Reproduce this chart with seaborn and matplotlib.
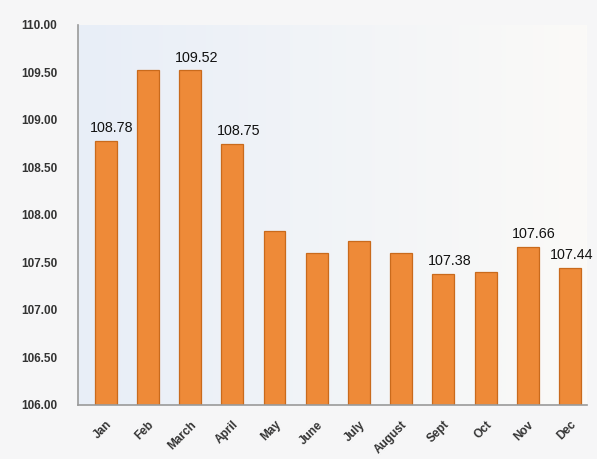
import numpy as np
import pandas as pd
import matplotlib
matplotlib.use("Agg")
import matplotlib.pyplot as plt
import seaborn as sns

months = ["Jan", "Feb", "March", "April", "May", "June", "July", "August", "Sept", "Oct", "Nov", "Dec"]
values = [108.78, 109.52, 109.52, 108.75, 107.83, 107.60, 107.72, 107.60, 107.38, 107.40, 107.66, 107.44]
labelled = ["Jan", "March", "April", "Sept", "Nov", "Dec"]
yticks = [106.0, 106.5, 107.0, 107.5, 108.0, 108.5, 109.0, 109.5, 110.0]

sns.set_style("white")
plt.rcParams['font.family'] = ['Liberation Sans', 'DejaVu Sans']

df = pd.DataFrame({"month": months, "value": values})

fig = plt.figure(figsize=(5.97, 4.59), dpi=100)
fig.patch.set_facecolor("#f6f6f7")
ax = fig.add_axes([0.131, 0.118, 0.852, 0.828])
ax.set_facecolor("#eef2f8")

# soft gradient background in axes coordinates
grad = np.linspace(0, 1, 256).reshape(1, -1)
ax.imshow(grad, extent=[0, 1, 0, 1], transform=ax.transAxes, aspect="auto",
          cmap=matplotlib.colors.LinearSegmentedColormap.from_list("bg", ["#e8eef8", "#fbfaf7"]),
          zorder=0)

sns.barplot(data=df, x="month", y="value", color="#ee8a38", saturation=1, width=0.52,
            edgecolor="#c96a1c", linewidth=0.9, ax=ax, zorder=2)

ax.set_ylim(106, 110)
ax.set_xlim(-0.65, 11.4)
ax.set_yticks(yticks)
ax.set_yticklabels([f"{t:.2f}" for t in yticks], fontsize=8.5, fontweight="bold", color="#333333")
ax.set_xticks(range(len(months)))
ax.set_xticklabels(months, rotation=45, ha="right", rotation_mode="anchor",
                   fontsize=8.5, fontweight="bold", color="#333333")
ax.set_xlabel("")
ax.set_ylabel("")

last = len(months) - 1
for i, (m, v) in enumerate(zip(months, values)):
    if m in labelled:
        dx = 0.05 if i == last else 0.15
        ax.text(i + dx, v + 0.06, f"{v:.2f}", ha="center", va="bottom", fontsize=10.3,
                color="#111111", zorder=5, clip_on=False)

for s in ["top", "right"]:
    ax.spines[s].set_visible(False)
for s in ["left", "bottom"]:
    ax.spines[s].set_color("#9a9a9a")
    ax.spines[s].set_linewidth(1.2)
ax.tick_params(axis="y", direction="out", length=5, color="#9a9a9a", pad=10)
ax.tick_params(axis="x", direction="out", length=4, color="#9a9a9a", pad=6)

fig.savefig("out.png", dpi=100, facecolor=fig.get_facecolor())
